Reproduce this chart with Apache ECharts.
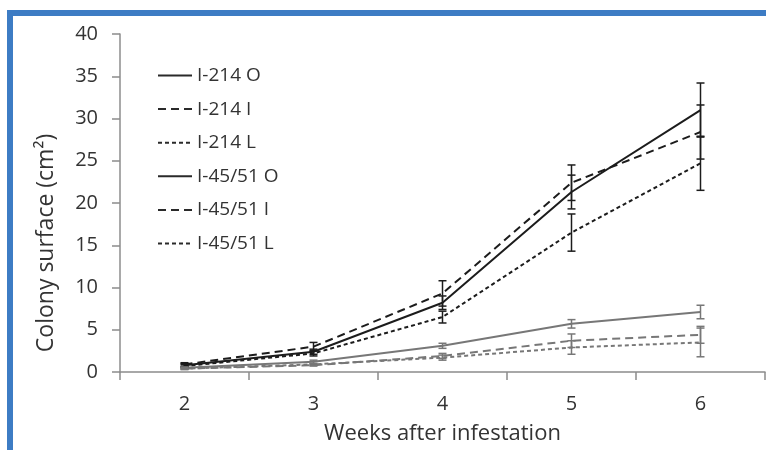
<!DOCTYPE html>
<html>
<head>
<meta charset="utf-8">
<script src="https://cdn.jsdelivr.net/npm/echarts@6/dist/echarts.min.js"></script>
<style>html,body{margin:0;padding:0;background:#fff;}#c{width:766px;height:450px;}</style>
</head>
<body>
<div id="c"></div>
<script>
var weeks = ['2', '3', '4', '5', '6'];
var yTicks = [0, 5, 10, 15, 20, 25, 30, 35, 40];
var seriesNames = ['I-214 O', 'I-214 I', 'I-214 L', 'I-45/51 O', 'I-45/51 I', 'I-45/51 L'];
var i214O = [0.8, 2.4, 8.2, 21.3, 31.0];
var i214OErr = [0.2, 0.3, 0.8, 2.0, 3.2];
var i214I = [0.9, 3.0, 9.3, 22.4, 28.4];
var i214IErr = [0.2, 0.5, 1.5, 2.1, 3.2];
var i214L = [0.7, 2.2, 6.5, 16.5, 24.7];
var i214LErr = [0.2, 0.3, 0.7, 2.2, 3.2];
var i4551O = [0.5, 1.2, 3.1, 5.7, 7.1];
var i4551OErr = [0.1, 0.2, 0.3, 0.5, 0.8];
var i4551I = [0.4, 0.8, 1.9, 3.7, 4.4];
var i4551IErr = [0.1, 0.1, 0.3, 0.8, 1.0];
var i4551L = [0.4, 0.9, 1.7, 2.9, 3.5];
var i4551LErr = [0.1, 0.1, 0.3, 0.8, 1.7];

var FONT = 'Open Sans';
var BLACK = '#1c1c1c';
var GRAY = '#777777';

var values = [i214O, i214I, i214L, i4551O, i4551I, i4551L];
var errs = [i214OErr, i214IErr, i214LErr, i4551OErr, i4551IErr, i4551LErr];
var colors = [BLACK, BLACK, BLACK, GRAY, GRAY, GRAY];
var dashes = ['solid', [8, 5], [4, 3], 'solid', [8, 5], [4, 3]];

var series = [];
for (var s = 0; s < 6; s++) {
  series.push({
    name: seriesNames[s],
    type: 'line',
    data: values[s],
    symbol: 'none',
    showSymbol: false,
    silent: true,
    z: 3,
    color: colors[s],
    lineStyle: { color: colors[s], width: 2, type: dashes[s] }
  });
}
function errRender(color) {
  return function (params, api) {
    var x = api.value(0), lo = api.value(1), hi = api.value(2);
    var p1 = api.coord([x, lo]);
    var p2 = api.coord([x, hi]);
    var cw = 4;
    var st = { stroke: color, lineWidth: 1.5 };
    return {
      type: 'group',
      children: [
        { type: 'line', shape: { x1: p1[0], y1: p1[1], x2: p2[0], y2: p2[1] }, style: st },
        { type: 'line', shape: { x1: p1[0] - cw, y1: p1[1], x2: p1[0] + cw, y2: p1[1] }, style: st },
        { type: 'line', shape: { x1: p2[0] - cw, y1: p2[1], x2: p2[0] + cw, y2: p2[1] }, style: st }
      ]
    };
  };
}
for (var s2 = 0; s2 < 6; s2++) {
  var d = [];
  for (var k = 0; k < weeks.length; k++) {
    d.push([k, values[s2][k] - errs[s2][k], values[s2][k] + errs[s2][k]]);
  }
  series.push({
    type: 'custom',
    silent: true,
    z: 4,
    renderItem: errRender(colors[s2]),
    encode: { x: 0, y: [1, 2] },
    data: d
  });
}

var legendData = seriesNames.map(function (n, i) {
  return {
    name: n,
    icon: 'inherit',
    lineStyle: { color: '#2a2a2a', width: 2, type: dashes[i] },
    itemStyle: { opacity: 0, color: 'rgba(0,0,0,0)', borderWidth: 0 }
  };
});

var chart = echarts.init(document.getElementById('c'));
chart.setOption({
  animation: false,
  backgroundColor: '#ffffff',
  grid: { left: 120, right: 1, top: 34, bottom: 77, containLabel: false },
  legend: {
    orient: 'vertical',
    left: 152,
    top: 61,
    itemWidth: 34,
    itemHeight: 14,
    itemGap: 14.6,
    icon: 'inherit',
    itemStyle: { opacity: 0 },
    data: legendData,
    textStyle: { fontFamily: FONT, fontSize: 19, color: '#333333' }
  },
  xAxis: {
    type: 'category',
    data: weeks,
    boundaryGap: true,
    axisLine: { lineStyle: { color: '#8c8c8c', width: 1.5 } },
    axisTick: { show: true, length: 8, interval: 0, lineStyle: { color: '#8c8c8c', width: 1.5 } },
    axisLabel: { margin: 22, fontFamily: FONT, fontSize: 20, color: '#333333' },
    name: 'Weeks after infestation',
    nameLocation: 'middle',
    nameGap: 51,
    nameTextStyle: { fontFamily: FONT, fontSize: 22, color: '#333333' }
  },
  yAxis: {
    type: 'value',
    min: 0,
    max: 40,
    interval: 5,
    splitLine: { show: false },
    axisLine: { show: true, lineStyle: { color: '#8c8c8c', width: 1.5 } },
    axisTick: { show: true, length: 8, lineStyle: { color: '#8c8c8c', width: 1.5 } },
    axisLabel: {
      margin: 22, fontFamily: FONT, fontSize: 20, color: '#333333',
      formatter: function (v) { return yTicks.indexOf(v) >= 0 ? String(v) : ''; }
    }
  },
  graphic: [
    {
      type: 'rect', silent: true, z: 100,
      shape: { x: 10, y: 13, width: 900, height: 600 },
      style: { fill: 'none', stroke: '#3d7cc4', lineWidth: 6 }
    },
    {
      type: 'text', silent: true,
      x: 46, y: 243, rotation: Math.PI / 2,
      style: { text: 'Colony surface (cm²)', fontFamily: FONT, fontSize: 23, fill: '#333333', align: 'center', verticalAlign: 'middle' }
    }
  ],
  series: series
});
</script>
</body>
</html>
